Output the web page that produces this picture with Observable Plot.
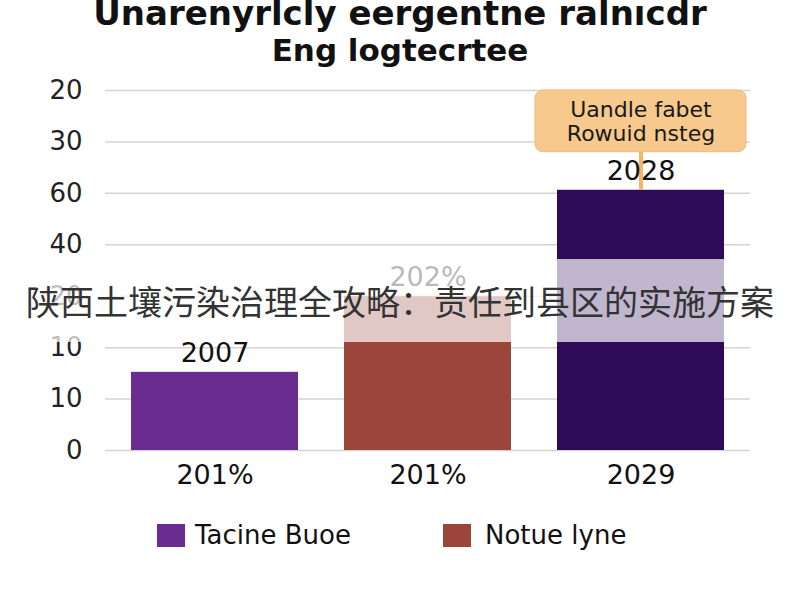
<!DOCTYPE html>
<html>
<head>
<meta charset="utf-8">
<script src="https://cdn.jsdelivr.net/npm/d3@7"></script>
<script src="https://cdn.jsdelivr.net/npm/@observablehq/plot@0.6"></script>
<style>
  html, body { margin: 0; padding: 0; background: #fff; }
  #wrap { position: relative; width: 800px; height: 600px; overflow: hidden; background: #fff; font-family: "DejaVu Sans", sans-serif; }
  .tl { position: absolute; left: 0; width: 800px; text-align: center; font-weight: bold; color: #111; white-space: nowrap; }
  #t1 { top: -7px; font-size: 34px; line-height: 40px; }
  #t2 { top: 32px; font-size: 31px; line-height: 36px; }
  #chart { position: absolute; left: 0; top: 70px; }
  #legend { position: absolute; left: 0; top: 522px; width: 800px; height: 28px; font-size: 26px; color: #111; }
  .sw { position: absolute; top: 2px; width: 28px; height: 23px; }
  .lb { position: absolute; top: -1px; line-height: 28px; }
  #band { position: absolute; left: 0; top: 259px; width: 800px; height: 83px; background: rgba(255,255,255,0.7); text-align: center; line-height: 83px; font-family: "Noto Sans CJK SC", sans-serif; font-size: 34px; color: #333; white-space: nowrap; }
</style>
</head>
<body>
<div id="wrap">
  <div id="t1" class="tl"></div>
  <div id="t2" class="tl"></div>
  <div id="chart"></div>
  <div id="legend"></div>
  <div id="band"></div>
</div>
<script>
// ---- data ----
const titleLines = ["Unarenyrlcly eergentne ralnıcdr", "Eng logtecrtee"];
const categories = [0, 1, 2];
const xLabels = ["201%", "201%", "2029"];
const values = [15.2, 29.9, 50.6];
const barLabels = ["2007", "202%", "2028"];
const barColors = ["#6a2c91", "#9c463b", "#2e0a5a"];
const yTicks = [0, 10, 20, 30, 40, 50, 60, 70];
const yLabels = ["0", "10", "10", "20", "40", "60", "30", "20"];
const calloutLines = ["Uandle fabet", "Rowuid nsteg"];
const calloutRange = [58, 70];
const legendLabels = ["Tacine Buoe", "Notue lyne"];
const legendColors = ["#6a2c91", "#9c463b"];
const overlayText = "陕西土壤污染治理全攻略：责任到县区的实施方案";

const data = categories.map((c, i) => ({cat: c, value: values[i], label: barLabels[i], color: barColors[i]}));
const callout = [{cat: categories[2], y1: calloutRange[0], y2: calloutRange[1], tip: values[2], text: calloutLines.join("\n"), mid: (calloutRange[0] + calloutRange[1]) / 2}];

document.getElementById("t1").textContent = titleLines[0];
document.getElementById("t2").textContent = titleLines[1];
document.getElementById("band").textContent = overlayText;

const plot = Plot.plot({
  width: 800,
  height: 420,
  marginLeft: 105,
  marginRight: 50,
  marginTop: 20,
  marginBottom: 40,
  style: {fontFamily: "'DejaVu Sans', sans-serif", background: "transparent"},
  x: {type: "band", domain: categories, paddingInner: 0.215, paddingOuter: 0.115},
  y: {domain: [0, 70]},
  marks: [
    Plot.gridY(yTicks, {stroke: "#d4d4d4", strokeOpacity: 1, strokeWidth: 1.5}),
    Plot.axisY({ticks: yTicks, tickFormat: (d) => yLabels[yTicks.indexOf(d)], tickSize: 0, tickPadding: 23, fontSize: 26, fill: "#222", label: null}),
    Plot.axisX({tickFormat: (d) => xLabels[d], tickSize: 0, tickPadding: 14, fontSize: 27, fill: "#111", label: null}),
    Plot.barY(data, {x: "cat", y: "value", fill: "color"}),
    Plot.ruleX(callout, {x: "cat", y1: "tip", y2: "y1", stroke: "#f5b466", strokeWidth: 4}),
    Plot.barY(callout, {x: "cat", y1: "y1", y2: "y2", insetLeft: -22, insetRight: -22, rx: 8, fill: "#f8c98d", stroke: "#f2b979", strokeWidth: 1}),
    Plot.text(callout, {x: "cat", y: "mid", text: "text", fontSize: 22, lineHeight: 1.08, fill: "#1a1a1a"}),
    Plot.text(data, {x: "cat", y: "value", text: "label", dy: -19, fontSize: 27, fill: "#111"})
  ]
});
document.getElementById("chart").appendChild(plot);

// legend
const lg = document.getElementById("legend");
const swLeft = [157, 443], lbLeft = [195, 485];
legendLabels.forEach((t, i) => {
  const s = document.createElement("div");
  s.className = "sw"; s.style.left = swLeft[i] + "px"; s.style.background = legendColors[i];
  lg.appendChild(s);
  const l = document.createElement("div");
  l.className = "lb"; l.style.left = lbLeft[i] + "px"; l.textContent = t;
  lg.appendChild(l);
});
</script>
</body>
</html>
